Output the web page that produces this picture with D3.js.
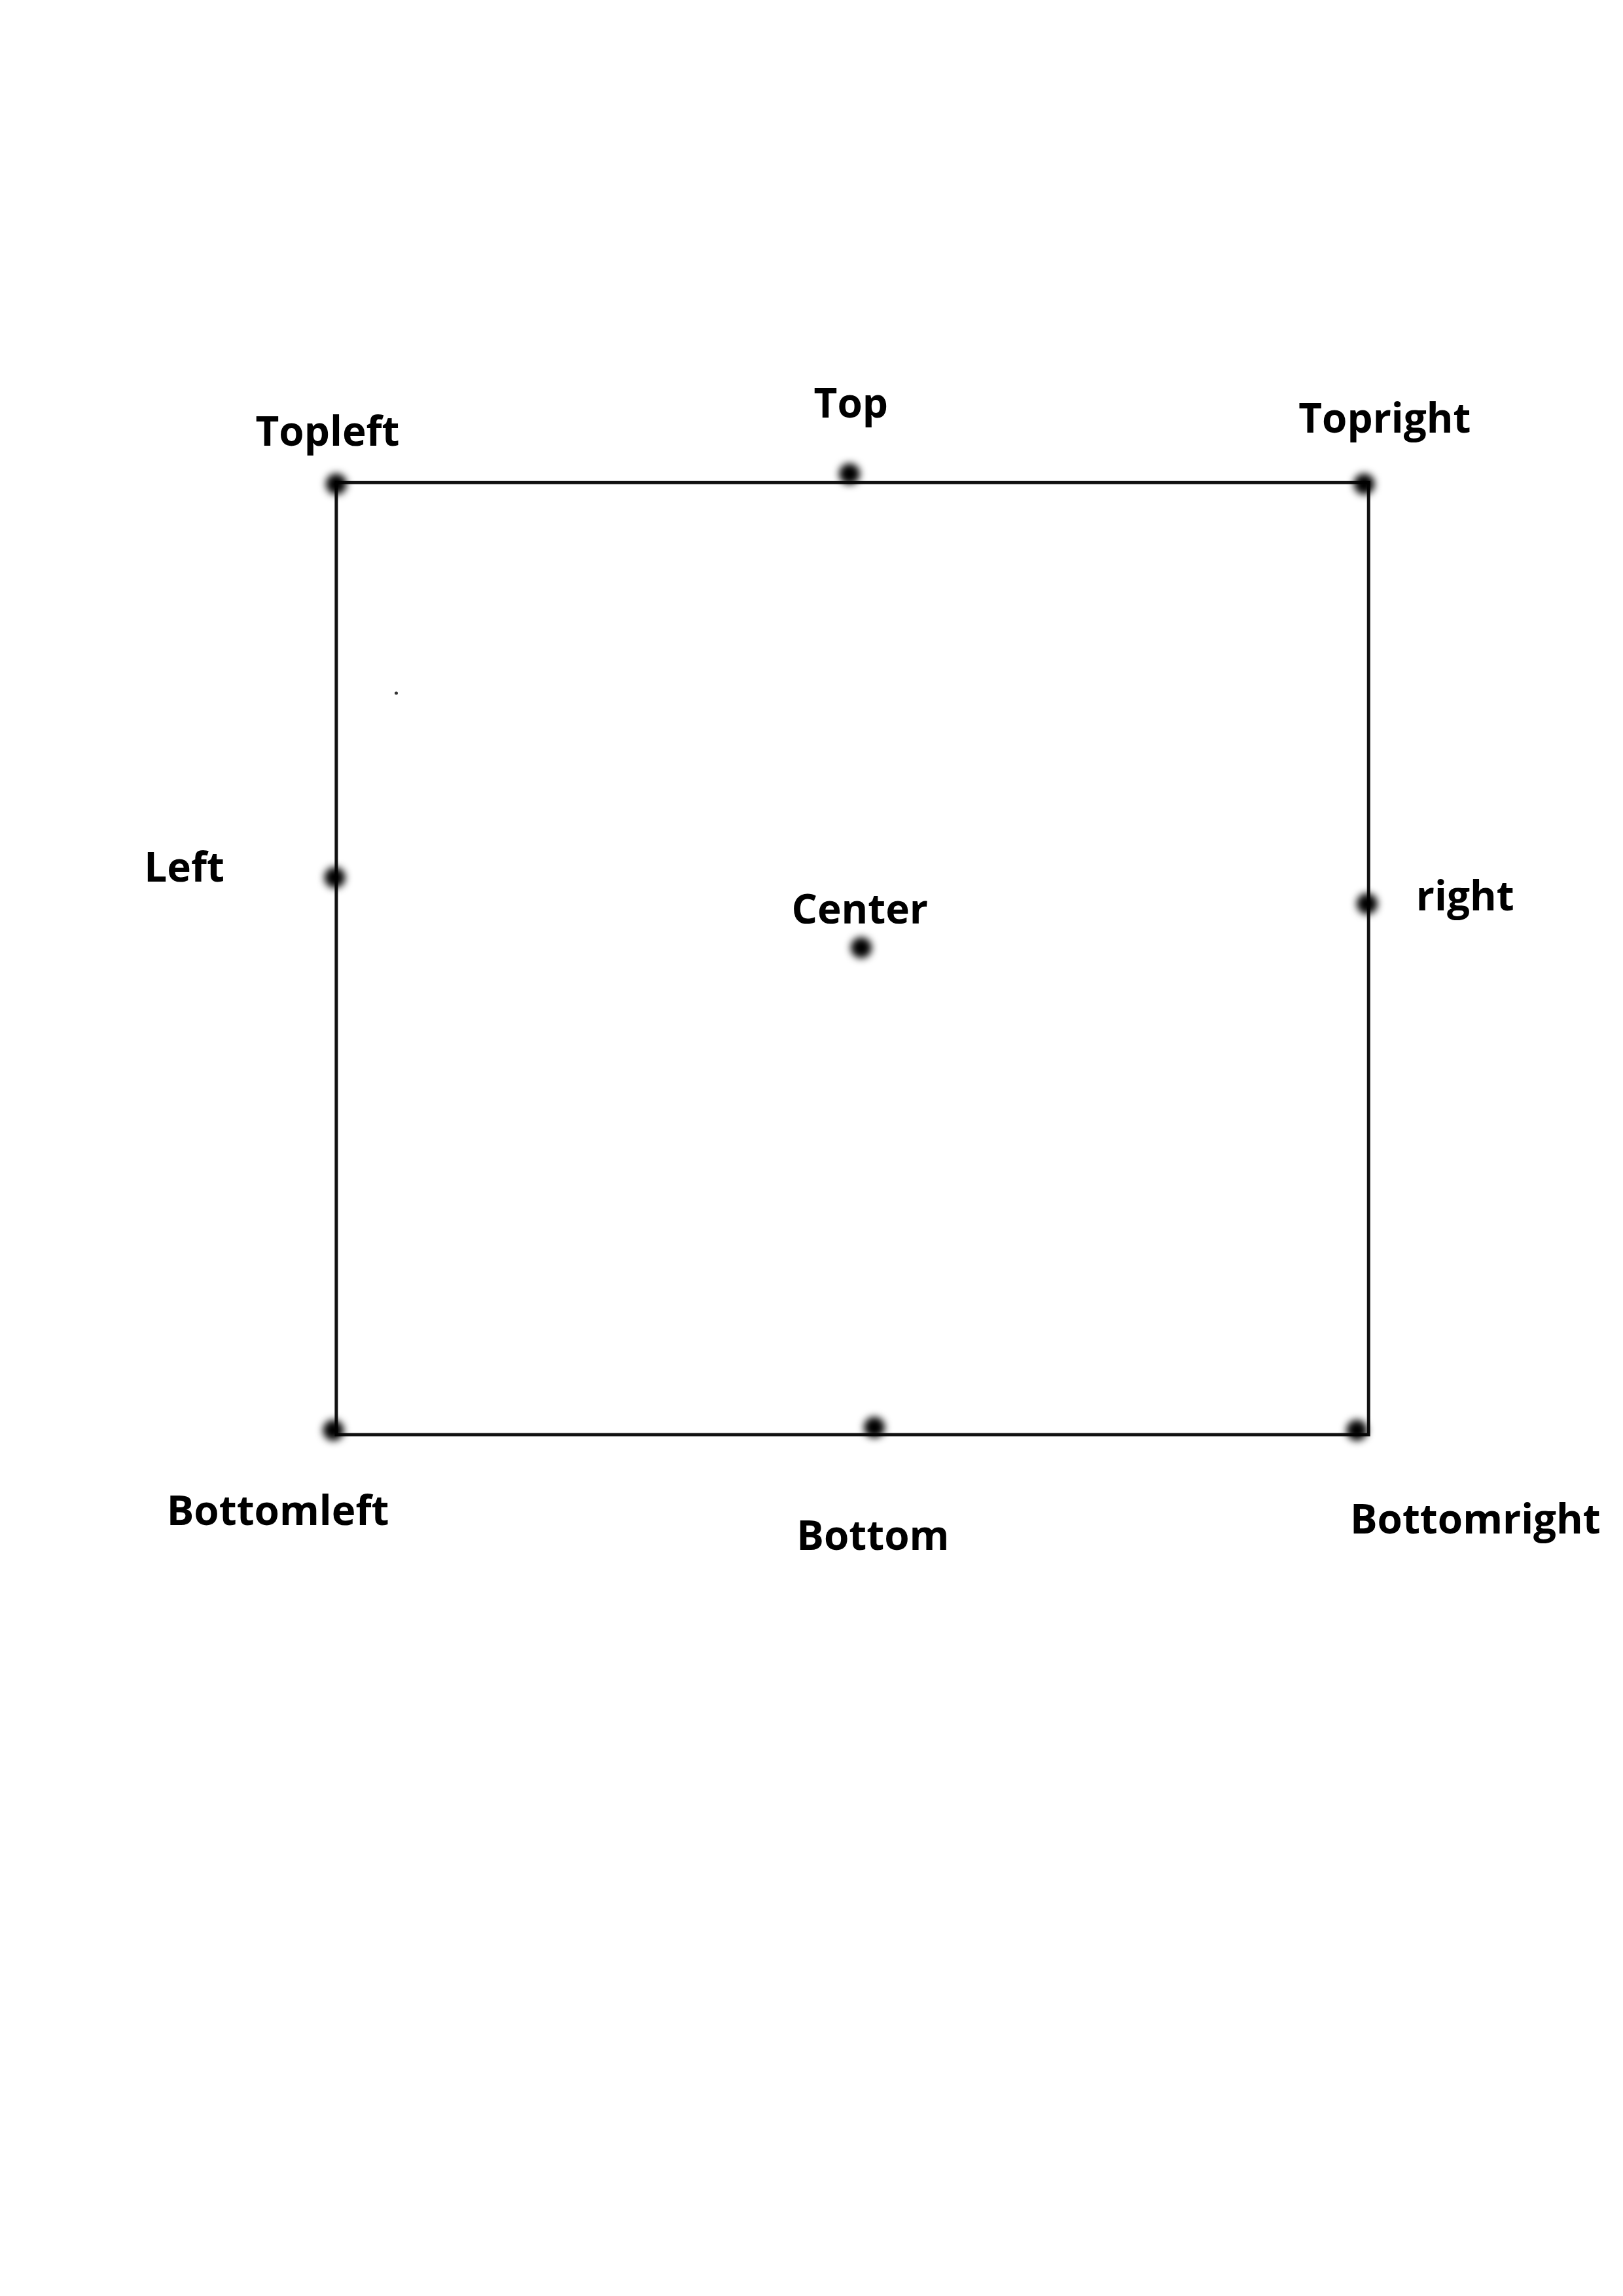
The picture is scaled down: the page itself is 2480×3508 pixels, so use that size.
<!DOCTYPE html>
<html>
<head>
<meta charset="utf-8">
<script src="https://cdn.jsdelivr.net/npm/d3@7"></script>
<style>
  body { margin: 0; background: #fff; }
</style>
</head>
<body>
<div class="chart"></div>
<script>
// Page size
const svgWidth = 2480;
const svgHeight = 3508;

// Point data in page units (0..1110 wide)
const labels = ["Topleft", "Top", "Topright", "Left", "Center", "right", "Bottomleft", "Bottom", "Bottomright"];
const pointX = [230, 581, 933, 229, 589, 935, 228, 598, 928];
const pointY = [331, 324, 331, 600, 648, 618, 978, 976, 978];
const labelX = [224, 582, 947, 126, 588, 1002, 190, 597, 1009];
const labelY = [295, 276, 286, 593, 622, 613, 1033, 1050, 1039];

// Square outline corners
const boxX = [230, 936];
const boxY = [330, 981];

const data = labels.map((d, i) => ({
    label: d, px: pointX[i], py: pointY[i], lx: labelX[i], ly: labelY[i]
}));

const x = d3.scaleLinear().domain([0, 1110]).range([0, svgWidth]);
const y = d3.scaleLinear().domain([0, 1570]).range([0, svgHeight]);

let svg = d3.select(".chart")
    .append("svg")
    .attr("width", svgWidth)
    .attr("height", svgHeight);

svg.append("rect").attr("width", svgWidth).attr("height", svgHeight).attr("fill", "#fff");

// blur for the fuzzy dots
svg.append("defs").append("filter")
    .attr("id", "blur")
    .attr("x", "-100%").attr("y", "-100%")
    .attr("width", "300%").attr("height", "300%")
    .append("feGaussianBlur")
    .attr("stdDeviation", 6);

svg.append("rect")
    .attr("x", x(boxX[0]))
    .attr("y", y(boxY[0]))
    .attr("width", x(boxX[1]) - x(boxX[0]))
    .attr("height", y(boxY[1]) - y(boxY[0]))
    .attr("fill", "none")
    .attr("stroke", "#111")
    .attr("stroke-width", 5);

svg.selectAll(".dot")
    .data(data)
    .enter()
    .append("circle")
    .attr("class", "dot")
    .attr("cx", d => x(d.px))
    .attr("cy", d => y(d.py))
    .attr("r", 16)
    .attr("fill", "#000")
    .attr("filter", "url(#blur)");

// stray speck
svg.append("circle")
    .attr("cx", x(271))
    .attr("cy", y(474))
    .attr("r", 2.5)
    .attr("fill", "#333");

svg.selectAll(".label")
    .data(data)
    .enter()
    .append("text")
    .attr("class", "label")
    .attr("x", d => x(d.lx))
    .attr("y", d => y(d.ly))
    .attr("dy", "0.35em")
    .attr("text-anchor", "middle")
    .attr("font-family", "'Open Sans', 'Noto Sans', sans-serif")
    .attr("font-weight", "bold")
    .attr("font-size", "62px")
    .attr("fill", "#000")
    .text(d => d.label);
</script>
</body>
</html>
